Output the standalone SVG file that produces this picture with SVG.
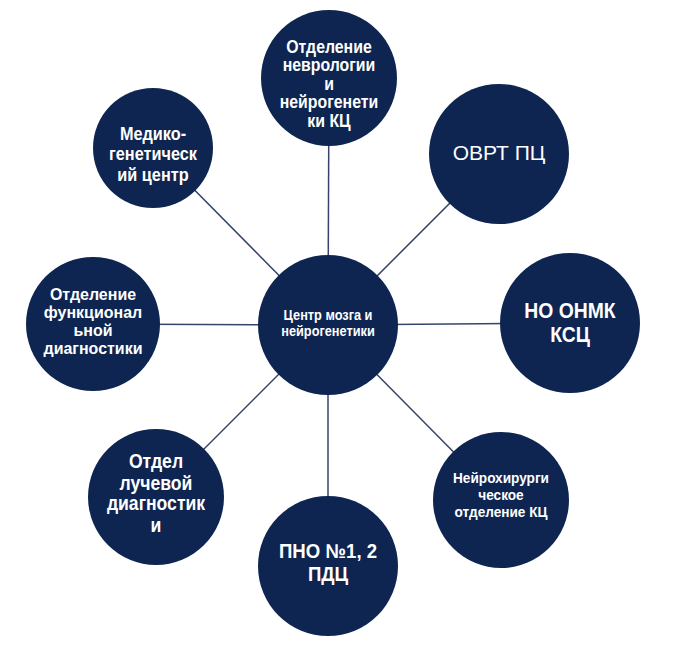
<svg xmlns="http://www.w3.org/2000/svg" width="680" height="653" viewBox="0 0 680 653">
<style>
.n{fill:#0e2552}
.t{font-family:"Liberation Sans",Arial,sans-serif;font-weight:bold;fill:#fff;text-anchor:middle}
.r{font-family:"Liberation Sans",Arial,sans-serif;font-weight:normal;fill:#fff;text-anchor:middle}
.c line{stroke:#34446a;stroke-width:1.5}
</style>
<rect width="680" height="653" fill="#fff"/>
<g class="c" id="connectors">
<line x1="328" y1="325" x2="329" y2="78"/>
<line x1="328" y1="325" x2="153" y2="148"/>
<line x1="328" y1="325" x2="499" y2="154"/>
<line x1="328" y1="325" x2="93" y2="324"/>
<line x1="328" y1="325" x2="570" y2="323"/>
<line x1="328" y1="325" x2="501" y2="500"/>
<line x1="328" y1="325" x2="156" y2="497"/>
<line x1="328" y1="325" x2="328" y2="566"/>
</g>
<g id="center"><circle class="n" cx="328" cy="325" r="70"/>
<text class="t" font-size="14.5" transform="matrix(0.88 0 0 1 39.36 0)"><tspan x="328" y="320">Центр мозга и</tspan><tspan x="328" y="336.5">нейрогенетики</tspan></text></g>
<g id="top"><circle class="n" cx="329" cy="78" r="68"/>
<text class="t" font-size="18" transform="matrix(0.88 0 0 1 39.48 0)"><tspan x="329" y="53">Отделение</tspan><tspan x="329" y="71.5">неврологии</tspan><tspan x="329" y="90">и</tspan><tspan x="329" y="108.5">нейрогенети</tspan><tspan x="329" y="127">ки КЦ</tspan></text></g>
<g id="medico"><circle class="n" cx="153" cy="148" r="60"/>
<text class="t" font-size="18.5" transform="matrix(0.88 0 0 1 18.36 0)"><tspan x="153" y="140">Медико-</tspan><tspan x="153" y="160.5">генетическ</tspan><tspan x="153" y="181">ий центр</tspan></text></g>
<g id="ovrt"><circle class="n" cx="499" cy="154" r="70"/>
<text class="r" font-size="21" x="499" y="159.5">ОВРТ ПЦ</text></g>
<g id="func"><circle class="n" cx="93" cy="324" r="67"/>
<text class="t" font-size="17" transform="matrix(0.94 0 0 1 5.58 0)"><tspan x="93" y="300">Отделение</tspan><tspan x="93" y="318">функционал</tspan><tspan x="93" y="336">ьной</tspan><tspan x="93" y="354">диагностики</tspan></text></g>
<g id="onmk"><circle class="n" cx="570" cy="323" r="70"/>
<text class="t" font-size="22" transform="matrix(0.88 0 0 1 68.4 0)"><tspan x="570" y="318">НО ОНМК</tspan><tspan x="570" y="342">КСЦ</tspan></text></g>
<g id="neuro"><circle class="n" cx="501" cy="500" r="68"/>
<text class="t" font-size="15.5" transform="matrix(0.88 0 0 1 60.12 0)"><tspan x="501" y="483">Нейрохирурги</tspan><tspan x="501" y="500">ческое</tspan><tspan x="501" y="517">отделение КЦ</tspan></text></g>
<g id="luch"><circle class="n" cx="156" cy="497" r="68"/>
<text class="t" font-size="20" transform="matrix(0.88 0 0 1 18.72 0)"><tspan x="156" y="468">Отдел</tspan><tspan x="156" y="490">лучевой</tspan><tspan x="156" y="510">диагностик</tspan><tspan x="156" y="532">и</tspan></text></g>
<g id="pno"><circle class="n" cx="328" cy="566" r="70"/>
<text class="t" font-size="20" transform="matrix(0.93 0 0 1 22.96 0)"><tspan x="328" y="558">ПНО №1, 2</tspan><tspan x="328" y="581">ПДЦ</tspan></text></g>
</svg>
